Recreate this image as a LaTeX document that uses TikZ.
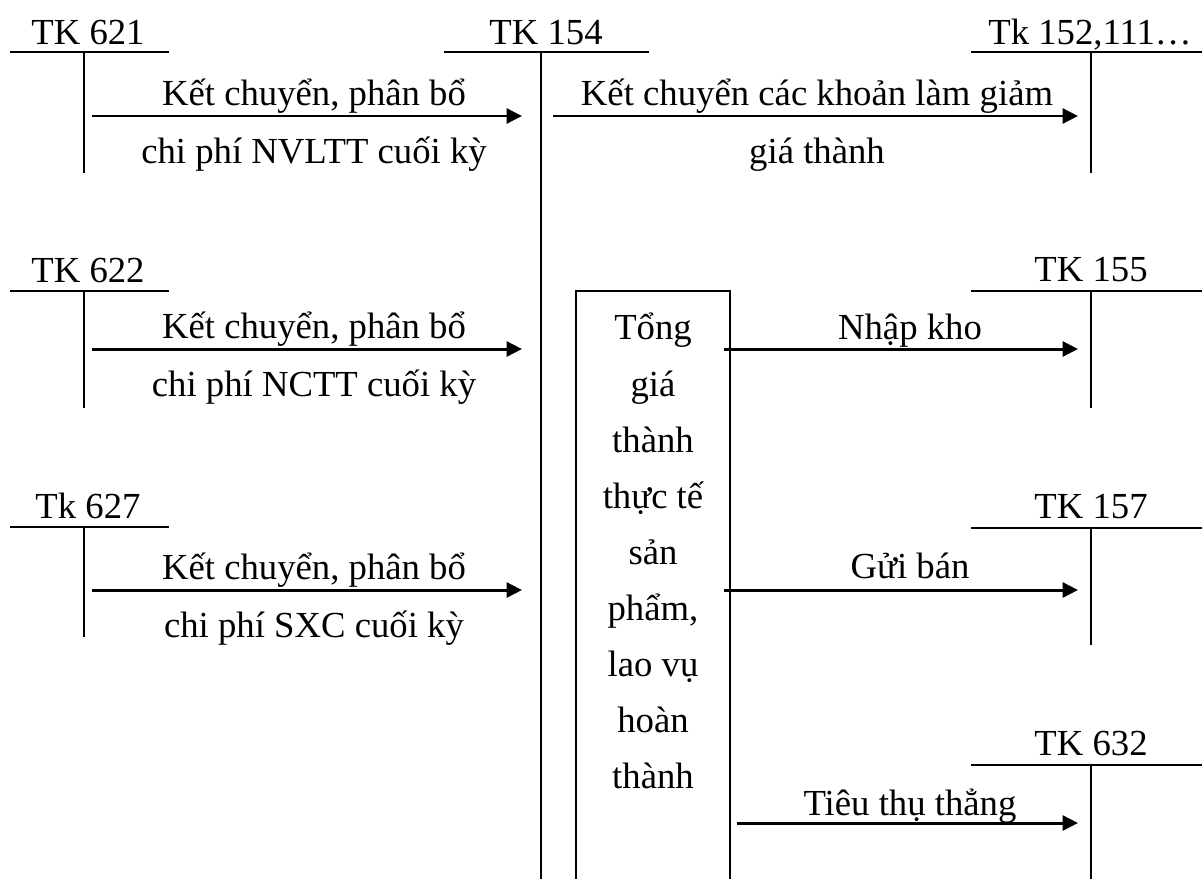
\documentclass[tikz,border=0pt]{standalone}
\usepackage{fontspec}
\setmainfont{Liberation Serif}
\usetikzlibrary{arrows.meta}

\begin{document}
\begin{tikzpicture}[x=0.02cm, y=-0.02cm, font=\fontsize{20.9}{31.9}\selectfont,
  acc/.style={line width=1.3pt},
  arr/.style={line width=1.7pt, -{Triangle[length=3.1mm,width=3mm]}},
  lbl/.style={anchor=base, inner sep=0pt}]
	\useasboundingbox (0,0) rectangle (1202,879);
	% T accounts
	\draw[acc] (10,52) -- (169,52) (84,52) -- (84,173);
	\draw[acc] (10,291) -- (169,291) (84,291) -- (84,408);
	\draw[acc] (10,527) -- (169,527) (84,527) -- (84,637);
	\draw[acc] (444,52) -- (649,52) (541,52) -- (541,879);
	\draw[acc] (971,52) -- (1202,52) (1091,52) -- (1091,173);
	\draw[acc] (971,291) -- (1202,291) (1091,291) -- (1091,408);
	\draw[acc] (971,528) -- (1202,528) (1091,528) -- (1091,645);
	\draw[acc] (971,765) -- (1202,765) (1091,765) -- (1091,879);
	\node[lbl] (tk621) at (88,44) {TK 621};
	\node[lbl] (tk622) at (88,282) {TK 622};
	\node[lbl] (tk627) at (88,518) {Tk 627};
	\node[lbl] (tk154) at (546,44) {TK 154};
	\node[lbl] (tk152) at (1090,44) {Tk 152,111\dots};
	\node[lbl] (tk155) at (1091,281) {TK 155};
	\node[lbl] (tk157) at (1091,518) {TK 157};
	\node[lbl] (tk632) at (1091,755) {TK 632};
	% box
	\draw[acc] (576,879) -- (576,291) -- (730,291) -- (730,879);
	\node[anchor=north, inner sep=0pt, align=center] (tong) at (653,313)
	  {Tổng\\giá\\thành\\thực tế\\sản\\phẩm,\\lao vụ\\hoàn\\thành};
	% arrow ends
	\coordinate (o621) at (92,116);   \coordinate (i154a) at (522,116);
	\coordinate (o154) at (553,116);  \coordinate (i152) at (1078,116);
	\coordinate (o622) at (92,349);   \coordinate (i154b) at (522,349);
	\coordinate (o627) at (92,590);   \coordinate (i154c) at (522,590);
	\coordinate (ot1) at (724,349);   \coordinate (i155) at (1078,349);
	\coordinate (ot2) at (724,590);   \coordinate (i157) at (1078,590);
	\coordinate (ot3) at (737,823);   \coordinate (i632) at (1078,823);
	\draw[arr] (o621) -- (i154a);
	\draw[arr] (o154) -- (i152);
	\draw[arr] (o622) -- (i154b);
	\draw[arr] (o627) -- (i154c);
	\draw[arr] (ot1) -- (i155);
	\draw[arr] (ot2) -- (i157);
	\draw[arr] (ot3) -- (i632);
	% labels
	\node[lbl] (l1a) at (314,105) {Kết chuyển, phân bổ};
	\node[lbl] (l1b) at (314,163) {chi phí NVLTT cuối kỳ};
	\node[lbl] (l2a) at (817,105) {Kết chuyển các khoản làm giảm};
	\node[lbl] (l2b) at (817,163) {giá thành};
	\node[lbl] (l3a) at (314,338) {Kết chuyển, phân bổ};
	\node[lbl] (l3b) at (314,396) {chi phí NCTT cuối kỳ};
	\node[lbl] (l4a) at (314,579) {Kết chuyển, phân bổ};
	\node[lbl] (l4b) at (314,637) {chi phí SXC cuối kỳ};
	\node[lbl] (l5) at (910,339) {Nhập kho};
	\node[lbl] (l6) at (910,578) {Gửi bán};
	\node[lbl] (l7) at (910,815) {Tiêu thụ thẳng};
\end{tikzpicture}
\end{document}
